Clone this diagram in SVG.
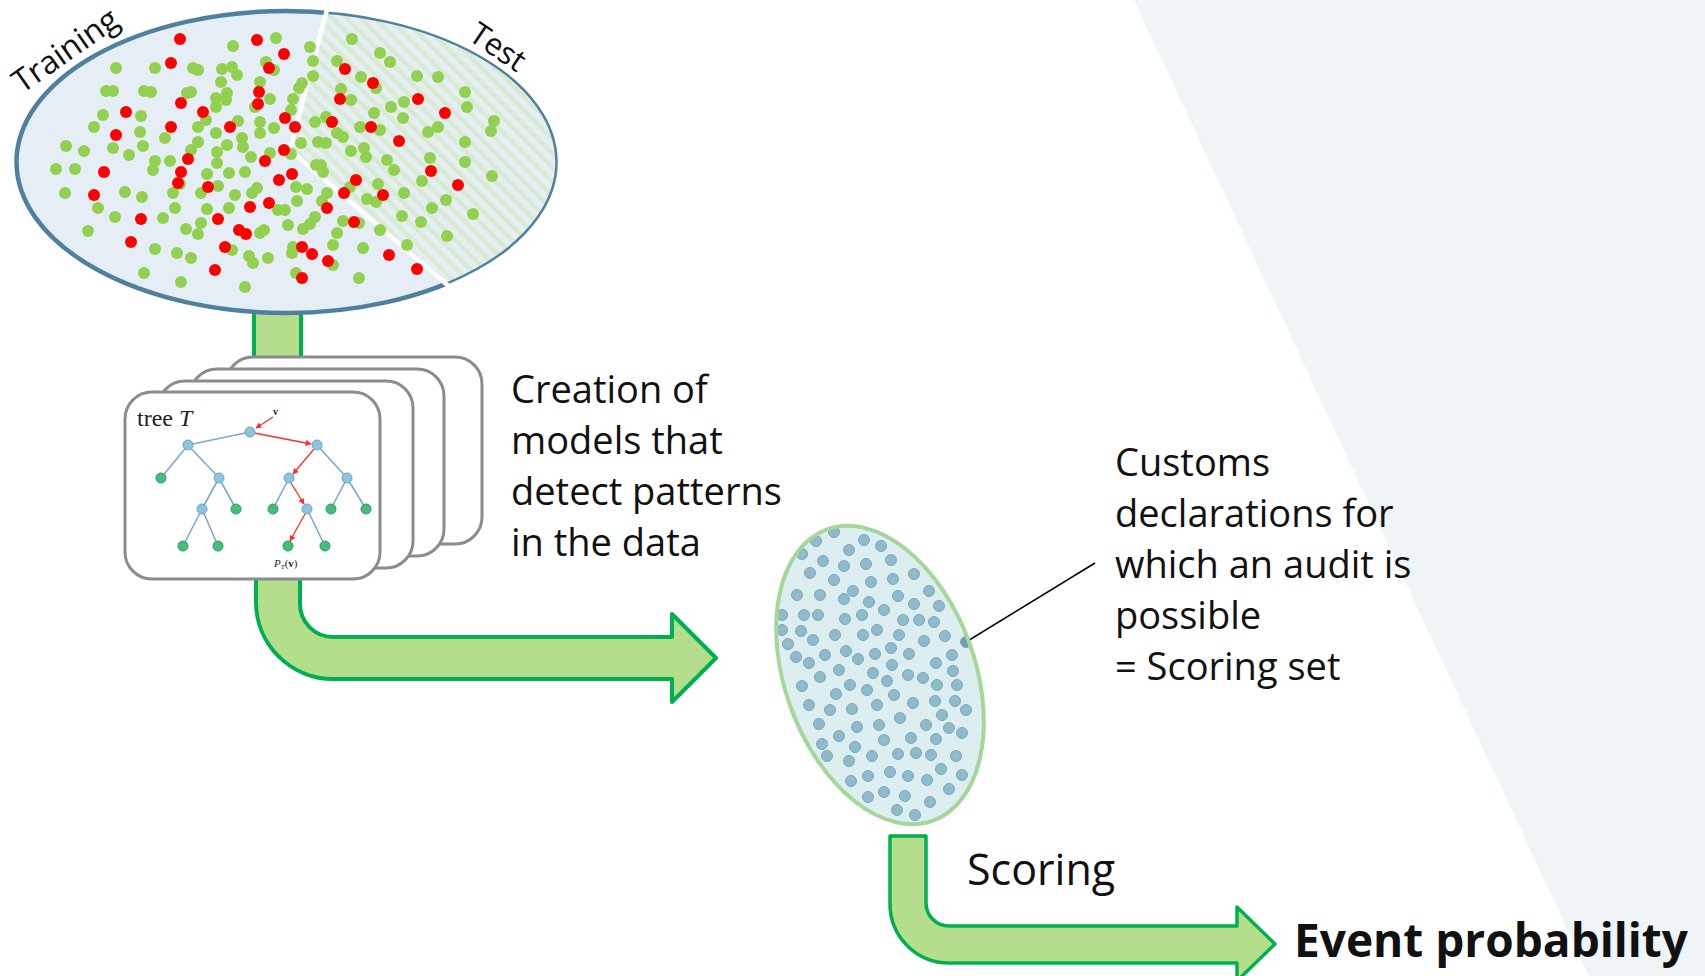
<svg xmlns="http://www.w3.org/2000/svg" width="1705" height="976" viewBox="0 0 1705 976">
<defs>
<style>
.lbl{font-family:"Open Sans","Noto Sans","DejaVu Sans",sans-serif;fill:#111;}
.g{fill:#92D050;}
.r{fill:#FF0000;}
.b{fill:#8FBACA;stroke:#7AA8BC;stroke-width:1;}
.arrow{fill:#B5DE8C;stroke:#00B050;stroke-linejoin:round;}
.card{fill:#fff;stroke:#8C8C8C;stroke-width:3;}
.te{stroke:#7BA7D6;stroke-width:1.6;fill:none;}
.tr{stroke:#FF2A2A;stroke-width:1.3;fill:none;marker-end:url(#rh);}
.nb{fill:#8DC3DB;stroke:#6CA6C5;stroke-width:1;}
.ng{fill:#45BE7A;stroke:#2E9C62;stroke-width:1;}
.serif{font-family:"Liberation Serif","DejaVu Serif",serif;fill:#222;}
</style>
<marker id="rh" viewBox="0 0 10 10" refX="9" refY="5" markerWidth="6" markerHeight="6" orient="auto" markerUnits="userSpaceOnUse"><path d="M0,0 L10,5 L0,10 z" fill="#FF2A2A"/></marker>
<pattern id="hatch" width="10" height="10" patternUnits="userSpaceOnUse" patternTransform="rotate(-45)"><rect width="10" height="10" fill="#E5EEF4"/><rect width="4.5" height="10" fill="#D8EBD1"/></pattern>
<clipPath id="bigE"><ellipse cx="286.5" cy="162" rx="270" ry="151"/></clipPath>
<clipPath id="testP"><polygon points="333,-10 290,150 501,330 620,330 620,-10"/></clipPath>
<clipPath id="trainP"><polygon points="-10,-10 333,-10 290,150 501,330 -10,330"/></clipPath>
<clipPath id="smallE"><ellipse cx="0" cy="0" rx="95" ry="155"/></clipPath>
</defs>

<rect width="1705" height="976" fill="#fff"/>
<polygon id="bg-band" points="1134,0 1705,0 1705,976 1589,976" fill="#EFF4F7"/>

<g id="connectors">
  <rect x="254" y="295" width="47" height="70" class="arrow" stroke-width="4"/>
  <path class="arrow" stroke-width="4" d="M256,570 L256,602 A77,77 0 0 0 333,679 L672,679 L672,702 L716,658 L672,614 L672,637 L333,637 A33,33 0 0 1 300,604 L300,570"/>
  <path class="arrow" stroke-width="3.5" d="M890,836 L926,836 L926,903 A23,23 0 0 0 949,926 L1237,926 L1237,907 L1275,944 L1237,981 L1237,963 L949,963 A59,59 0 0 1 890,904 Z"/>
  <line x1="966" y1="642" x2="1095" y2="563" stroke="#000" stroke-width="1.6"/>
</g>

<g id="dataset">
  <ellipse cx="286.5" cy="162" rx="270" ry="151" fill="#E5EEF4"/>
  <ellipse cx="286.5" cy="162" rx="270" ry="151" fill="url(#hatch)" clip-path="url(#testP)"/>
  <ellipse cx="286.5" cy="162" rx="270" ry="151" fill="none" stroke="#4F819F" stroke-width="4.5" clip-path="url(#trainP)"/>
  <ellipse cx="286.5" cy="162" rx="270" ry="151" fill="none" stroke="#4F819F" stroke-width="2.5" clip-path="url(#testP)"/>
  <polyline points="328,6 290,150 452,289" fill="none" stroke="#fff" stroke-width="4.5"/>
  <g clip-path="url(#bigE)">
  <g class="g">
<circle cx="276" cy="38" r="6"/><circle cx="233" cy="46" r="6"/><circle cx="310" cy="47" r="6"/><circle cx="352" cy="39" r="6"/><circle cx="380" cy="53" r="6"/><circle cx="390" cy="62" r="6"/><circle cx="116" cy="68" r="6"/><circle cx="155" cy="68" r="6"/><circle cx="193" cy="68" r="6"/><circle cx="198" cy="70" r="6"/><circle cx="222" cy="69" r="6"/><circle cx="232" cy="67" r="6"/><circle cx="237" cy="75" r="6"/><circle cx="266" cy="62" r="6"/><circle cx="274" cy="70" r="6"/><circle cx="313" cy="61" r="6"/><circle cx="337" cy="61" r="6"/><circle cx="313" cy="76" r="6"/><circle cx="361" cy="77" r="6"/><circle cx="417" cy="76" r="6"/><circle cx="438" cy="77" r="6"/><circle cx="221" cy="82" r="6"/><circle cx="260" cy="82" r="6"/><circle cx="302" cy="83" r="6"/><circle cx="299" cy="88" r="6"/><circle cx="341" cy="89" r="6"/><circle cx="376" cy="88" r="6"/><circle cx="465" cy="92" r="6"/><circle cx="106" cy="91" r="6"/><circle cx="113" cy="91" r="6"/><circle cx="144" cy="91" r="6"/><circle cx="151" cy="92" r="6"/><circle cx="187" cy="93" r="6"/><circle cx="191" cy="92" r="6"/><circle cx="227" cy="93" r="6"/><circle cx="216" cy="98" r="6"/><circle cx="226" cy="100" r="6"/><circle cx="216" cy="107" r="6"/><circle cx="255" cy="107" r="6"/><circle cx="270" cy="99" r="6"/><circle cx="293" cy="99" r="6"/><circle cx="351" cy="100" r="6"/><circle cx="404" cy="102" r="6"/><circle cx="391" cy="107" r="6"/><circle cx="467" cy="107" r="6"/><circle cx="103" cy="115" r="6"/><circle cx="141" cy="116" r="6"/><circle cx="291" cy="110" r="6"/><circle cx="374" cy="113" r="6"/><circle cx="403" cy="118" r="6"/><circle cx="494" cy="121" r="6"/><circle cx="491" cy="131" r="6"/><circle cx="94" cy="127" r="6"/><circle cx="140" cy="132" r="6"/><circle cx="206" cy="120" r="6"/><circle cx="198" cy="127" r="6"/><circle cx="238" cy="121" r="6"/><circle cx="260" cy="122" r="6"/><circle cx="274" cy="128" r="6"/><circle cx="315" cy="122" r="6"/><circle cx="326" cy="117" r="6"/><circle cx="360" cy="127" r="6"/><circle cx="380" cy="130" r="6"/><circle cx="428" cy="132" r="6"/><circle cx="438" cy="127" r="6"/><circle cx="66" cy="146" r="6"/><circle cx="84" cy="151" r="6"/><circle cx="113" cy="148" r="6"/><circle cx="129" cy="155" r="6"/><circle cx="143" cy="146" r="6"/><circle cx="165" cy="138" r="6"/><circle cx="198" cy="142" r="6"/><circle cx="191" cy="150" r="6"/><circle cx="216" cy="133" r="6"/><circle cx="227" cy="145" r="6"/><circle cx="242" cy="138" r="6"/><circle cx="243" cy="147" r="6"/><circle cx="260" cy="133" r="6"/><circle cx="301" cy="143" r="6"/><circle cx="318" cy="142" r="6"/><circle cx="326" cy="143" r="6"/><circle cx="337" cy="133" r="6"/><circle cx="343" cy="137" r="6"/><circle cx="351" cy="151" r="6"/><circle cx="364" cy="148" r="6"/><circle cx="366" cy="157" r="6"/><circle cx="465" cy="142" r="6"/><circle cx="56" cy="169" r="6"/><circle cx="75" cy="169" r="6"/><circle cx="155" cy="161" r="6"/><circle cx="153" cy="170" r="6"/><circle cx="170" cy="161" r="6"/><circle cx="217" cy="152" r="6"/><circle cx="217" cy="163" r="6"/><circle cx="229" cy="173" r="6"/><circle cx="245" cy="172" r="6"/><circle cx="251" cy="157" r="6"/><circle cx="270" cy="153" r="6"/><circle cx="291" cy="154" r="6"/><circle cx="316" cy="165" r="6"/><circle cx="323" cy="172" r="6"/><circle cx="321" cy="165" r="6"/><circle cx="387" cy="160" r="6"/><circle cx="394" cy="170" r="6"/><circle cx="430" cy="158" r="6"/><circle cx="465" cy="162" r="6"/><circle cx="492" cy="176" r="6"/><circle cx="65" cy="193" r="6"/><circle cx="125" cy="192" r="6"/><circle cx="142" cy="197" r="6"/><circle cx="173" cy="193" r="6"/><circle cx="180" cy="184" r="6"/><circle cx="201" cy="193" r="6"/><circle cx="207" cy="174" r="6"/><circle cx="218" cy="186" r="6"/><circle cx="235" cy="195" r="6"/><circle cx="252" cy="193" r="6"/><circle cx="257" cy="188" r="6"/><circle cx="296" cy="187" r="6"/><circle cx="307" cy="189" r="6"/><circle cx="297" cy="201" r="6"/><circle cx="327" cy="193" r="6"/><circle cx="350" cy="187" r="6"/><circle cx="378" cy="184" r="6"/><circle cx="404" cy="193" r="6"/><circle cx="422" cy="181" r="6"/><circle cx="367" cy="199" r="6"/><circle cx="376" cy="202" r="6"/><circle cx="446" cy="200" r="6"/><circle cx="98" cy="208" r="6"/><circle cx="115" cy="217" r="6"/><circle cx="163" cy="218" r="6"/><circle cx="175" cy="208" r="6"/><circle cx="207" cy="209" r="6"/><circle cx="229" cy="208" r="6"/><circle cx="278" cy="210" r="6"/><circle cx="285" cy="210" r="6"/><circle cx="322" cy="201" r="6"/><circle cx="315" cy="217" r="6"/><circle cx="310" cy="224" r="6"/><circle cx="343" cy="221" r="6"/><circle cx="359" cy="223" r="6"/><circle cx="402" cy="216" r="6"/><circle cx="421" cy="222" r="6"/><circle cx="432" cy="208" r="6"/><circle cx="473" cy="214" r="6"/><circle cx="88" cy="231" r="6"/><circle cx="186" cy="229" r="6"/><circle cx="198" cy="234" r="6"/><circle cx="201" cy="223" r="6"/><circle cx="260" cy="233" r="6"/><circle cx="264" cy="230" r="6"/><circle cx="288" cy="225" r="6"/><circle cx="303" cy="229" r="6"/><circle cx="337" cy="233" r="6"/><circle cx="333" cy="245" r="6"/><circle cx="380" cy="230" r="6"/><circle cx="407" cy="245" r="6"/><circle cx="447" cy="236" r="6"/><circle cx="155" cy="249" r="6"/><circle cx="177" cy="253" r="6"/><circle cx="191" cy="258" r="6"/><circle cx="232" cy="250" r="6"/><circle cx="249" cy="256" r="6"/><circle cx="253" cy="263" r="6"/><circle cx="268" cy="258" r="6"/><circle cx="293" cy="247" r="6"/><circle cx="292" cy="253" r="6"/><circle cx="296" cy="273" r="6"/><circle cx="333" cy="265" r="6"/><circle cx="363" cy="248" r="6"/><circle cx="144" cy="273" r="6"/><circle cx="181" cy="282" r="6"/><circle cx="245" cy="287" r="6"/><circle cx="359" cy="278" r="6"/>
  </g>
  <g class="r">
<circle cx="180" cy="39" r="6"/><circle cx="257" cy="40" r="6"/><circle cx="284" cy="54" r="6"/><circle cx="171" cy="63" r="6"/><circle cx="269" cy="68" r="6"/><circle cx="345" cy="69" r="6"/><circle cx="373" cy="83" r="6"/><circle cx="259" cy="92" r="6"/><circle cx="181" cy="103" r="6"/><circle cx="258" cy="104" r="6"/><circle cx="340" cy="99" r="6"/><circle cx="418" cy="99" r="6"/><circle cx="126" cy="112" r="6"/><circle cx="203" cy="112" r="6"/><circle cx="445" cy="113" r="6"/><circle cx="171" cy="127" r="6"/><circle cx="230" cy="127" r="6"/><circle cx="285" cy="118" r="6"/><circle cx="295" cy="127" r="6"/><circle cx="332" cy="122" r="6"/><circle cx="371" cy="127" r="6"/><circle cx="116" cy="135" r="6"/><circle cx="399" cy="141" r="6"/><circle cx="284" cy="150" r="6"/><circle cx="188" cy="159" r="6"/><circle cx="265" cy="161" r="6"/><circle cx="104" cy="172" r="6"/><circle cx="181" cy="172" r="6"/><circle cx="431" cy="171" r="6"/><circle cx="292" cy="174" r="6"/><circle cx="279" cy="180" r="6"/><circle cx="208" cy="187" r="6"/><circle cx="356" cy="180" r="6"/><circle cx="458" cy="185" r="6"/><circle cx="94" cy="195" r="6"/><circle cx="344" cy="193" r="6"/><circle cx="383" cy="195" r="6"/><circle cx="250" cy="207" r="6"/><circle cx="269" cy="203" r="6"/><circle cx="327" cy="208" r="6"/><circle cx="141" cy="219" r="6"/><circle cx="218" cy="219" r="6"/><circle cx="354" cy="222" r="6"/><circle cx="239" cy="230" r="6"/><circle cx="246" cy="234" r="6"/><circle cx="131" cy="242" r="6"/><circle cx="225" cy="247" r="6"/><circle cx="302" cy="247" r="6"/><circle cx="312" cy="254" r="6"/><circle cx="328" cy="261" r="6"/><circle cx="389" cy="255" r="6"/><circle cx="417" cy="269" r="6"/><circle cx="215" cy="270" r="6"/><circle cx="302" cy="278" r="6"/><circle cx="178" cy="183" r="6"/>
  </g>
  </g>
  <text class="lbl" font-size="32" transform="translate(22,94) rotate(-35)">Training</text>
  <text class="lbl" font-size="31" transform="translate(467,39) rotate(34)">Test</text>
</g>

<g id="models">
  <rect class="card" x="226" y="357" width="256" height="187" rx="27"/>
  <rect class="card" x="190" y="369" width="254" height="187" rx="27"/>
  <rect class="card" x="158" y="381" width="255" height="187" rx="27"/>
  <rect class="card" x="125" y="392" width="255" height="187" rx="27"/>
  <text class="serif" x="137" y="426" font-size="24">tree <tspan font-style="italic">T</tspan></text>
  <text class="serif" x="273" y="415" font-size="10" font-weight="bold">v</text>
  <g>
    <line class="te" x1="250" y1="432" x2="188" y2="445"/>
    <line class="te" x1="188" y1="445" x2="161" y2="478"/>
    <line class="te" x1="188" y1="445" x2="219" y2="478"/>
    <line class="te" x1="317" y1="445" x2="347" y2="478"/>
    <line class="te" x1="219" y1="478" x2="202" y2="509"/>
    <line class="te" x1="219" y1="478" x2="236" y2="509"/>
    <line class="te" x1="289" y1="478" x2="273" y2="509"/>
    <line class="te" x1="347" y1="478" x2="331" y2="509"/>
    <line class="te" x1="347" y1="478" x2="366" y2="509"/>
    <line class="te" x1="202" y1="509" x2="183" y2="546"/>
    <line class="te" x1="202" y1="509" x2="218" y2="546"/>
    <line class="te" x1="307" y1="509" x2="325" y2="546"/>
    <line class="tr" x1="273" y1="417" x2="256" y2="428"/>
    <line class="tr" x1="254" y1="433" x2="311" y2="444"/>
    <line class="tr" x1="314" y1="449" x2="293" y2="474"/>
    <line class="tr" x1="291" y1="483" x2="304" y2="504"/>
    <line class="tr" x1="305" y1="514" x2="290" y2="541"/>
    <circle class="nb" cx="250" cy="432" r="5"/><circle class="nb" cx="188" cy="445" r="5"/><circle class="nb" cx="317" cy="445" r="5"/><circle class="nb" cx="219" cy="478" r="5"/><circle class="nb" cx="289" cy="478" r="5"/><circle class="nb" cx="347" cy="478" r="5"/><circle class="nb" cx="202" cy="509" r="5"/><circle class="nb" cx="307" cy="509" r="5"/>
    <circle class="ng" cx="161" cy="478" r="5"/><circle class="ng" cx="236" cy="509" r="5"/><circle class="ng" cx="273" cy="509" r="5"/><circle class="ng" cx="331" cy="509" r="5"/><circle class="ng" cx="366" cy="509" r="5"/><circle class="ng" cx="183" cy="546" r="5"/><circle class="ng" cx="218" cy="546" r="5"/><circle class="ng" cx="288" cy="546" r="5"/><circle class="ng" cx="325" cy="546" r="5"/>
  </g>
  <text class="serif" x="274" y="567" font-size="11"><tspan font-style="italic">P</tspan><tspan font-size="7" dy="2" font-style="italic">T</tspan><tspan dy="-2">(</tspan><tspan font-weight="bold">v</tspan>)</text>
</g>

<g id="models-label">
  <text class="lbl" font-size="38"><tspan x="511" y="403">Creation of</tspan><tspan x="511" y="454">models that</tspan><tspan x="511" y="505">detect patterns</tspan><tspan x="511" y="556">in the data</tspan></text>
</g>

<g id="scoring-set">
  <g transform="translate(880,675) rotate(-20)">
    <ellipse cx="0" cy="0" rx="95" ry="155" fill="#DDEEF1"/>
  </g>
  <g transform="translate(880,675) rotate(-20)"><g clip-path="url(#smallE)"><g transform="rotate(20) translate(-880,-675)" class="b">
<circle cx="834" cy="532" r="5.5"/><circle cx="816" cy="541" r="5.5"/><circle cx="864" cy="540" r="5.5"/><circle cx="881" cy="546" r="5.5"/><circle cx="802" cy="554" r="5.5"/><circle cx="849" cy="550" r="5.5"/><circle cx="823" cy="561" r="5.5"/><circle cx="844" cy="566" r="5.5"/><circle cx="866" cy="564" r="5.5"/><circle cx="891" cy="560" r="5.5"/><circle cx="810" cy="573" r="5.5"/><circle cx="834" cy="580" r="5.5"/><circle cx="871" cy="582" r="5.5"/><circle cx="893" cy="579" r="5.5"/><circle cx="914" cy="574" r="5.5"/><circle cx="797" cy="595" r="5.5"/><circle cx="820" cy="595" r="5.5"/><circle cx="844" cy="599" r="5.5"/><circle cx="853" cy="591" r="5.5"/><circle cx="898" cy="596" r="5.5"/><circle cx="929" cy="591" r="5.5"/><circle cx="869" cy="602" r="5.5"/><circle cx="914" cy="604" r="5.5"/><circle cx="939" cy="606" r="5.5"/><circle cx="782" cy="615" r="5.5"/><circle cx="804" cy="615" r="5.5"/><circle cx="818" cy="615" r="5.5"/><circle cx="845" cy="619" r="5.5"/><circle cx="862" cy="615" r="5.5"/><circle cx="884" cy="610" r="5.5"/><circle cx="903" cy="620" r="5.5"/><circle cx="919" cy="620" r="5.5"/><circle cx="934" cy="622" r="5.5"/><circle cx="782" cy="630" r="5.5"/><circle cx="801" cy="631" r="5.5"/><circle cx="813" cy="640" r="5.5"/><circle cx="835" cy="635" r="5.5"/><circle cx="863" cy="635" r="5.5"/><circle cx="877" cy="630" r="5.5"/><circle cx="899" cy="635" r="5.5"/><circle cx="924" cy="641" r="5.5"/><circle cx="945" cy="636" r="5.5"/><circle cx="788" cy="644" r="5.5"/><circle cx="796" cy="657" r="5.5"/><circle cx="809" cy="663" r="5.5"/><circle cx="825" cy="655" r="5.5"/><circle cx="846" cy="651" r="5.5"/><circle cx="858" cy="659" r="5.5"/><circle cx="875" cy="654" r="5.5"/><circle cx="891" cy="648" r="5.5"/><circle cx="909" cy="654" r="5.5"/><circle cx="952" cy="655" r="5.5"/><circle cx="936" cy="663" r="5.5"/><circle cx="892" cy="665" r="5.5"/><circle cx="820" cy="677" r="5.5"/><circle cx="839" cy="670" r="5.5"/><circle cx="873" cy="673" r="5.5"/><circle cx="887" cy="681" r="5.5"/><circle cx="908" cy="675" r="5.5"/><circle cx="923" cy="678" r="5.5"/><circle cx="953" cy="671" r="5.5"/><circle cx="802" cy="686" r="5.5"/><circle cx="850" cy="685" r="5.5"/><circle cx="867" cy="690" r="5.5"/><circle cx="937" cy="685" r="5.5"/><circle cx="957" cy="685" r="5.5"/><circle cx="836" cy="694" r="5.5"/><circle cx="894" cy="695" r="5.5"/><circle cx="913" cy="703" r="5.5"/><circle cx="935" cy="701" r="5.5"/><circle cx="955" cy="701" r="5.5"/><circle cx="966" cy="710" r="5.5"/><circle cx="809" cy="705" r="5.5"/><circle cx="830" cy="710" r="5.5"/><circle cx="852" cy="709" r="5.5"/><circle cx="877" cy="705" r="5.5"/><circle cx="942" cy="715" r="5.5"/><circle cx="819" cy="724" r="5.5"/><circle cx="857" cy="727" r="5.5"/><circle cx="879" cy="725" r="5.5"/><circle cx="900" cy="718" r="5.5"/><circle cx="926" cy="725" r="5.5"/><circle cx="949" cy="728" r="5.5"/><circle cx="962" cy="733" r="5.5"/><circle cx="839" cy="736" r="5.5"/><circle cx="822" cy="744" r="5.5"/><circle cx="884" cy="740" r="5.5"/><circle cx="911" cy="738" r="5.5"/><circle cx="936" cy="739" r="5.5"/><circle cx="855" cy="747" r="5.5"/><circle cx="827" cy="756" r="5.5"/><circle cx="849" cy="761" r="5.5"/><circle cx="872" cy="756" r="5.5"/><circle cx="898" cy="754" r="5.5"/><circle cx="916" cy="753" r="5.5"/><circle cx="931" cy="755" r="5.5"/><circle cx="956" cy="756" r="5.5"/><circle cx="851" cy="781" r="5.5"/><circle cx="868" cy="776" r="5.5"/><circle cx="890" cy="772" r="5.5"/><circle cx="908" cy="776" r="5.5"/><circle cx="927" cy="780" r="5.5"/><circle cx="941" cy="769" r="5.5"/><circle cx="962" cy="775" r="5.5"/><circle cx="868" cy="797" r="5.5"/><circle cx="884" cy="792" r="5.5"/><circle cx="905" cy="796" r="5.5"/><circle cx="930" cy="802" r="5.5"/><circle cx="949" cy="789" r="5.5"/><circle cx="897" cy="810" r="5.5"/><circle cx="915" cy="815" r="5.5"/>
    <circle cx="966" cy="642" r="5.5" fill="#6E9DBA"/>
  </g></g></g>
  <g transform="translate(880,675) rotate(-20)">
    <ellipse cx="0" cy="0" rx="95" ry="155" fill="none" stroke="#A5D69B" stroke-width="4"/>
  </g>
</g>

<g id="scoring-label">
  <text class="lbl" font-size="38"><tspan x="1115" y="476">Customs</tspan><tspan x="1115" y="527">declarations for</tspan><tspan x="1115" y="578">which an audit is</tspan><tspan x="1115" y="629">possible</tspan><tspan x="1115" y="680">= Scoring set</tspan></text>
  <text class="lbl" font-size="43" x="967" y="885">Scoring</text>
  <text class="lbl" font-size="46" font-weight="bold" x="1294" y="957">Event probability</text>
</g>
</svg>
